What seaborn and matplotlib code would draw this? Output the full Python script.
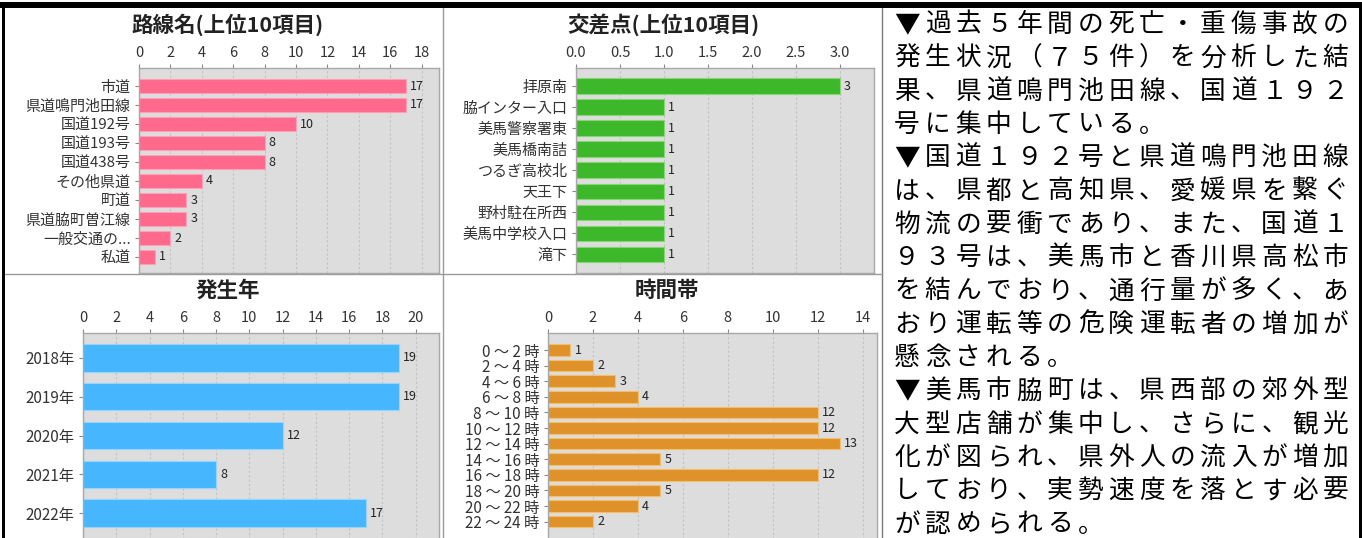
import matplotlib
matplotlib.use('Agg')
import matplotlib.pyplot as plt
import seaborn as sns
import pandas as pd

# 路線名(上位10項目)
route_names = ['市道', '県道鳴門池田線', '国道192号', '国道193号', '国道438号',
               'その他県道', '町道', '県道脇町曽江線', '一般交通の...', '私道']
route_counts = [17, 17, 10, 8, 8, 4, 3, 3, 2, 1]

# 交差点(上位10項目)
cross_names = ['拝原南', '脇インター入口', '美馬警察署東', '美馬橋南詰', 'つるぎ高校北',
               '天王下', '野村駐在所西', '美馬中学校入口', '滝下']
cross_counts = [3, 1, 1, 1, 1, 1, 1, 1, 1]

# 発生年
years = ['2018年', '2019年', '2020年', '2021年', '2022年']
year_counts = [19, 19, 12, 8, 17]

# 時間帯
hours = ['0 ～ 2 時', '2 ～ 4 時', '4 ～ 6 時', '6 ～ 8 時', '8 ～ 10 時', '10 ～ 12 時',
         '12 ～ 14 時', '14 ～ 16 時', '16 ～ 18 時', '18 ～ 20 時', '20 ～ 22 時', '22 ～ 24 時']
hour_counts = [1, 2, 3, 4, 12, 12, 13, 5, 12, 5, 4, 2]

memo_lines = [
    '▼過去５年間の死亡・重傷事故の',
    '発生状況（７５件）を分析した結',
    '果、県道鳴門池田線、国道１９２',
    '号に集中している。',
    '▼国道１９２号と県道鳴門池田線',
    'は、県都と高知県、愛媛県を繋ぐ',
    '物流の要衝であり、また、国道１',
    '９３号は、美馬市と香川県高松市',
    'を結んでおり、通行量が多く、あ',
    'おり運転等の危険運転者の増加が',
    '懸念される。',
    '▼美馬市脇町は、県西部の郊外型',
    '大型店舗が集中し、さらに、観光',
    '化が図られ、県外人の流入が増加',
    'しており、実勢速度を落とす必要',
    'が認められる。',
]

sns.set_style('white')
plt.rcParams['font.family'] = ['Noto Sans CJK JP', 'DejaVu Sans']

W, H = 1362, 538
fig = plt.figure(figsize=(W / 100, H / 100), dpi=100)

# 背景(枠線と右側の文章)
bg = fig.add_axes([0, 0, 1, 1], zorder=0)
bg.set_xlim(0, W)
bg.set_ylim(H, 0)
bg.axis('off')
bg.fill_between([0, W], 2, 8, color='black', lw=0)
bg.fill_between([2, 5], 8, H, color='black', lw=0)
bg.fill_between([1359, W], 8, H, color='black', lw=0)
bg.plot([443, 443], [8, H], color='#9a9a9a', lw=1)
bg.plot([882, 882], [8, H], color='#7a7a7a', lw=1)
bg.plot([5, 882], [274, 274], color='#9a9a9a', lw=1)

# 1文字ずつ升目に配置
for i, line in enumerate(memo_lines):
    y = 25 + 33.3 * i
    for j, ch in enumerate(line):
        bg.text(907 + 30.6 * j, y, ch, ha='center', va='center', fontsize=18.5, color='black')


def px_axes(left, top, right, bottom):
    return fig.add_axes([left / W, 1 - bottom / H, (right - left) / W, (bottom - top) / H], zorder=2)


def draw_panel(ax, names, counts, color, edge, width, xmax, ticks, tick_fmt, title, title_xy,
               top, c0, step, bottom, label_fs):
    df = pd.DataFrame({'name': names, 'count': counts})
    sns.barplot(data=df, x='count', y='name', orient='h', color=color, width=width,
                edgecolor=edge, linewidth=0.8, saturation=1, ax=ax)
    ax.set_facecolor('#dddddd')
    ax.set_xlim(0, xmax)
    ax.set_ylim((bottom - c0) / step, -(c0 - top) / step)
    ax.set_xticks(ticks)
    ax.set_xticklabels([tick_fmt.format(t) for t in ticks])
    ax.xaxis.tick_top()
    ax.tick_params(axis='x', top=True, bottom=False, length=3, width=0.8, color='#888888',
                   pad=3, labelsize=10.5, labelcolor='#333333')
    ax.tick_params(axis='y', left=True, length=3, width=0.8, color='#888888', pad=3,
                   labelsize=label_fs, labelcolor='#333333')
    ax.xaxis.grid(True, linestyle=(0, (2, 2)), color='#c2c2c2', linewidth=0.8)
    ax.set_axisbelow(True)
    for s in ax.spines.values():
        s.set_color('#a8a8a8')
        s.set_linewidth(1)
    ax.set_xlabel('')
    ax.set_ylabel('')
    for cont in ax.containers:
        ax.bar_label(cont, padding=3, fontsize=9, color='#222222')
    bg.text(title_xy[0], title_xy[1], title, ha='center', va='center', fontsize=15.5,
            fontweight='bold', color='#222222')


ax1 = px_axes(139, 68, 439, 273)
draw_panel(ax1, route_names, route_counts, '#ff6a8c', '#ffa0b6', 0.74, 19.1,
           list(range(0, 19, 2)), '{:d}', '路線名(上位10項目)', (228, 25),
           68, 86, 19, 273, 10.8)

ax2 = px_axes(576, 68, 874, 273)
draw_panel(ax2, cross_names, cross_counts, '#3db82a', '#86d676', 0.73, 3.39,
           [0, 0.5, 1.0, 1.5, 2.0, 2.5, 3.0], '{:.1f}', '交差点(上位10項目)', (663, 25),
           68, 86, 21.04, 273, 10.8)

ax3 = px_axes(83, 333, 439, 545)
draw_panel(ax3, years, year_counts, '#46b7ff', '#95d5ff', 0.71, 21.4,
           list(range(0, 21, 2)), '{:d}', '発生年', (228, 290),
           333, 357.7, 38.9, 545, 11)

ax4 = px_axes(548, 333, 877, 545)
draw_panel(ax4, hours, hour_counts, '#e0922a', '#f2bf6e', 0.75, 14.64,
           list(range(0, 15, 2)), '{:d}', '時間帯', (667, 290),
           333, 350, 15.6, 545, 11)

fig.savefig('out.png', dpi=100)
